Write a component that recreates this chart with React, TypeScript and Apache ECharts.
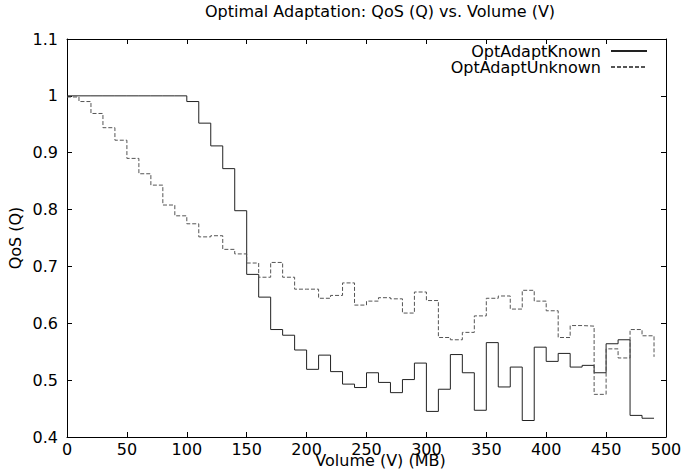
import React, { useEffect, useRef } from 'react';
import * as echarts from 'echarts';

const TITLE = 'Optimal Adaptation: QoS (Q) vs. Volume (V)';
const X_NAME = 'Volume (V) (MB)';
const Y_NAME = 'QoS (Q)';
const SERIES_NAMES = ['OptAdaptKnown', 'OptAdaptUnknown'];

const volumes = [
  0, 10, 20, 30, 40, 50, 60, 70, 80, 90,
  100, 110, 120, 130, 140, 150, 160, 170, 180, 190,
  200, 210, 220, 230, 240, 250, 260, 270, 280, 290,
  300, 310, 320, 330, 340, 350, 360, 370, 380, 390,
  400, 410, 420, 430, 440, 450, 460, 470, 480, 490,
];

const qosKnown = [
  1.0, 1.0, 1.0, 1.0, 1.0, 1.0, 1.0, 1.0, 1.0, 1.0,
  0.99, 0.952, 0.912, 0.872, 0.798, 0.686, 0.646, 0.589, 0.579, 0.553,
  0.519, 0.544, 0.515, 0.493, 0.487, 0.513, 0.496, 0.478, 0.501, 0.53,
  0.445, 0.484, 0.545, 0.513, 0.447, 0.566, 0.488, 0.523, 0.429, 0.558,
  0.533, 0.547, 0.523, 0.526, 0.513, 0.564, 0.571, 0.438, 0.433, 0.433,
];

const qosUnknown = [
  0.998, 0.99, 0.969, 0.944, 0.922, 0.89, 0.863, 0.843, 0.808, 0.789,
  0.775, 0.752, 0.754, 0.73, 0.722, 0.706, 0.681, 0.707, 0.681, 0.66,
  0.66, 0.644, 0.649, 0.671, 0.632, 0.639, 0.645, 0.643, 0.618, 0.655,
  0.64, 0.575, 0.571, 0.584, 0.613, 0.644, 0.648, 0.625, 0.658, 0.639,
  0.622, 0.575, 0.596, 0.595, 0.475, 0.555, 0.539, 0.589, 0.578, 0.541,
];

const FONT = 'DejaVu Sans';

export default function App() {
  const ref = useRef<HTMLDivElement>(null);
  useEffect(() => {
    if (!ref.current) return;
    const chart = echarts.init(ref.current, null, { renderer: 'svg' });
    const axisLine = { show: true, onZero: false, lineStyle: { color: '#000', width: 1 } };
    const axisTick = { show: true, inside: true, length: 5, lineStyle: { color: '#000', width: 1 } };
    const labelStyle = { color: '#000', fontFamily: FONT, fontSize: 16 };
    chart.setOption({
      animation: false,
      backgroundColor: '#fff',
      title: {
        text: TITLE,
        left: 380,
        top: 3,
        textAlign: 'center',
        padding: 0,
        textStyle: { fontFamily: FONT, fontSize: 16, fontWeight: 'normal', color: '#000' },
      },
      legend: {
        data: SERIES_NAMES,
        orient: 'vertical',
        align: 'right',
        right: 47,
        top: 43,
        padding: 0,
        itemWidth: 36,
        itemHeight: 12,
        itemGap: 0,
        itemStyle: { color: 'rgba(0,0,0,0)', borderWidth: 0, opacity: 0 },
        textStyle: {
          fontFamily: FONT,
          fontSize: 16,
          color: '#000',
          lineHeight: 12,
          padding: [0, 5, 0, 0],
        },
      },
      grid: { left: 67, right: 29, top: 39, bottom: 36, containLabel: false, outerBoundsMode: 'none' },
      xAxis: [
        {
          type: 'value',
          position: 'bottom',
          min: 0,
          max: 500,
          interval: 50,
          name: X_NAME,
          nameLocation: 'middle',
          nameGap: 15,
          nameMoveOverlap: false,
          nameTextStyle: { ...labelStyle, padding: [0, 0, 0, 28] },
          axisLine,
          axisTick,
          axisLabel: { ...labelStyle, margin: 4 },
          splitLine: { show: false },
        },
        {
          type: 'value',
          position: 'top',
          min: 0,
          max: 500,
          interval: 50,
          axisLine,
          axisTick,
          axisLabel: { show: false },
          splitLine: { show: false },
        },
      ],
      yAxis: [
        {
          type: 'value',
          position: 'left',
          min: 0.4,
          max: 1.1,
          interval: 0.1,
          name: Y_NAME,
          nameLocation: 'middle',
          nameGap: 44,
          nameMoveOverlap: false,
          nameRotate: 90,
          nameTextStyle: labelStyle,
          axisLine,
          axisTick,
          axisLabel: { ...labelStyle, margin: 9 },
          splitLine: { show: false },
        },
        {
          type: 'value',
          position: 'right',
          min: 0.4,
          max: 1.1,
          interval: 0.1,
          axisLine,
          axisTick,
          axisLabel: { show: false },
          splitLine: { show: false },
        },
      ],
      series: [
        {
          name: SERIES_NAMES[0],
          type: 'line',
          step: 'end',
          xAxisIndex: 0,
          yAxisIndex: 0,
          symbol: 'none',
          data: volumes.map((v, i) => [v, qosKnown[i]]),
          lineStyle: { color: '#222', width: 1 },
          itemStyle: { color: '#222' },
        },
        {
          name: SERIES_NAMES[1],
          type: 'line',
          step: 'end',
          xAxisIndex: 0,
          yAxisIndex: 0,
          symbol: 'none',
          data: volumes.map((v, i) => [v, qosUnknown[i]]),
          lineStyle: { color: '#555', width: 1, type: [4, 2] },
          itemStyle: { color: '#555' },
        },
      ],
    });
    return () => chart.dispose();
  }, []);
  return (
    <div
      ref={ref}
      style={{ position: 'fixed', left: 0, top: 0, width: 695, height: 473 }}
    />
  );
}
